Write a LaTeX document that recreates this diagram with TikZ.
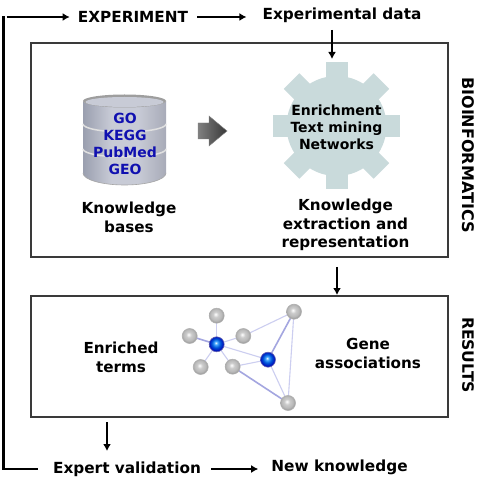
\documentclass[tikz,border=0pt]{standalone}
\usepackage{fontspec}
\setmainfont{DejaVu Sans}
\usetikzlibrary{arrows.meta,calc}
\definecolor{silverA}{HTML}{6F7484}
\definecolor{silverB}{HTML}{9297A8}
\definecolor{silverC}{HTML}{C8CBD6}
\definecolor{silverD}{HTML}{A8ABB8}
\definecolor{silverE}{HTML}{7C7F8C}
\pgfdeclarehorizontalshading{silver}{100bp}{
  color(0bp)=(silverA); color(22bp)=(silverB); color(42bp)=(silverC);
  color(58bp)=(silverC); color(75bp)=(silverD); color(92bp)=(silverE); color(100bp)=(silverA)}
\pgfdeclareradialshading{grayball}{\pgfpoint{-4bp}{5bp}}{
  color(0bp)=(white); color(9bp)=(black!20); color(20bp)=(black!28); color(28bp)=(black!45); color(50bp)=(black!45)}
\pgfdeclareradialshading{blueball}{\pgfpoint{-3bp}{5bp}}{
  color(0bp)=(white); color(5bp)=(blue!45!cyan!70!white); color(14bp)=(blue!60!cyan!85!black); color(26bp)=(blue!70!black); color(50bp)=(blue!70!black)}
\definecolor{gearfill}{HTML}{C9DADB}
\definecolor{dbblue}{HTML}{1010B0}
\definecolor{boxline}{HTML}{3A3A3A}
\definecolor{linkblue}{HTML}{CCCEF0}
\definecolor{linkdark}{HTML}{A4A6E0}
\tikzset{
  x=1pt,y=-1pt,
  panel/.style={draw=boxline,line width=1.2pt,fill=white},
  flow/.style={line width=2.1pt,black,-{Latex[length=7pt,width=8pt]}},
  loopline/.style={line width=2.5pt,black},
  caption/.style={font=\fontsize{15.2}{18.7}\selectfont\bfseries,align=center,inner sep=0pt,text=black},
  headline/.style={font=\fontsize{15.3}{19}\selectfont\bfseries,inner sep=0pt,text=black},
  side/.style={font=\fontsize{16}{18}\selectfont\bfseries,inner sep=0pt,rotate=-90,text=black},
  dbtext/.style={font=\fontsize{14}{17}\selectfont\bfseries,inner sep=0pt,text=dbblue},
  geartext/.style={font=\fontsize{14}{17}\selectfont\bfseries,align=center,inner sep=0pt,text=black},
  graynode/.style={circle,minimum size=15pt,inner sep=0pt,draw=black!30,line width=0.6pt,shading=grayball},
  bluenode/.style={circle,minimum size=15pt,inner sep=0pt,draw=blue!50!black!60,line width=0.6pt,shading=blueball},
  weak/.style={draw=linkblue,line width=1.1pt},
  strong/.style={draw=linkdark,line width=1.6pt},
}
\begin{document}
\begin{tikzpicture}
\useasboundingbox (0,0) rectangle (487,478);

% panels
\draw[panel] (31,43) rectangle (448,257);
\draw[panel] (31,296) rectangle (448,417);

% top and bottom rows
\node[headline] (experiment) at (133,17) {EXPERIMENT};
\node[headline] (data) at (342,15.5) {Experimental data};
\node[headline] (validation) at (127,469) {Expert validation};
\node[headline] (newknow) at (339.5,467.5) {New knowledge};

% knowledge base cylinder
\shade[shading=silver]
  (83,101) -- (83,173) arc[start angle=180,end angle=0,x radius=41.5,y radius=12]
  -- (166,101) arc[start angle=0,end angle=180,x radius=41.5,y radius=6] -- cycle;
\draw[white!88!black,line width=1.5pt] (83,124) arc[start angle=180,end angle=0,x radius=41.5,y radius=8];
\draw[white!88!black,line width=1.5pt] (83,149) arc[start angle=180,end angle=0,x radius=41.5,y radius=8];
\draw[black!35,line width=0.6pt] (83,173) arc[start angle=180,end angle=0,x radius=41.5,y radius=12];
\fill[black!38] (124.5,101) ellipse[x radius=41.5,y radius=6.5];
\fill[silverC] (124.5,102) ellipse[x radius=39,y radius=5];
\node[dbtext] (go) at (125,118) {GO};
\node[dbtext] (kegg) at (125,135) {KEGG};
\node[dbtext] (pubmed) at (125,152) {PubMed};
\node[dbtext] (geo) at (125,169) {GEO};

% block arrow between cylinder and gear
\shade[left color=black!50,right color=black!78,draw=black!50,line width=0.4pt]
  (198,123) -- (209,123) -- (209,116) -- (227,131) -- (209,146) -- (209,139) -- (198,139) -- cycle;

% gear
\begin{scope}[shift={(336.5,126)}]
  \fill[gearfill] (0,0) circle[radius=50];
  \foreach \a in {0,45,...,135}{
    \fill[gearfill,rotate=\a] (-63.5,-11) rectangle (63.5,11);
  }
\end{scope}
\node[geartext] (gear) at (336.5,127.5) {Enrichment\\Text mining\\Networks};

% captions
\node[caption] (bases) at (129,217.5) {Knowledge\\bases};
\node[caption] (extraction) at (345.5,225) {Knowledge\\extraction and\\representation};
\node[caption] (terms) at (121,357.5) {Enriched\\terms};
\node[caption] (assoc) at (368,353.5) {Gene\\associations};
\node[side] (bio) at (468.5,155) {BIOINFORMATICS};
\node[side,font=\fontsize{15.6}{18}\selectfont\bfseries] (res) at (468,355) {RESULTS};

% network
\coordinate (hubA) at (216.7,344.3);
\coordinate (hubB) at (268,359.7);
\coordinate (g1) at (216.7,315.7);
\coordinate (g2) at (189.7,336);
\coordinate (g3) at (243.3,336);
\coordinate (g4) at (200.7,367);
\coordinate (g5) at (232.7,366.7);
\coordinate (g6) at (294,311.7);
\coordinate (g7) at (288,403);
\draw[weak] (hubA) -- (g1);
\draw[strong] (hubA) -- (g2);
\draw[weak] (hubA) -- (g3);
\draw[weak] (hubA) -- (g4);
\draw[weak] (hubA) -- (g5);
\draw[weak] (hubA) -- (hubB);
\draw[weak] (hubB) -- (g5);
\draw[strong] (hubB) -- (g6);
\draw[weak] (hubB) -- (g7);
\draw[weak] (g3) -- (g6);
\draw[weak] (g6) -- (g7);
\draw[strong] (g5) -- (g7);
\node[bluenode] at (hubA) {};
\node[bluenode] at (hubB) {};
\foreach \n in {g1,g2,g3,g4,g5,g6,g7}{\node[graynode] at (\n) {};}

% flow connectors
\coordinate (loopcorner) at (3.5,17);
\coordinate (loopfoot) at (3.5,469);
\draw[flow,shorten <=3pt] (loopcorner) -- ([xshift=-8pt]experiment.west |- loopcorner);
\draw[loopline,line cap=rect] (loopcorner) -- (loopfoot) -- ([xshift=-16pt]validation.west |- loopfoot);
\draw[flow,shorten <=9pt,shorten >=16pt] (experiment.east) -- (experiment.east -| data.west);
\draw[flow,shorten <=10pt,shorten >=13pt] (validation.east) -- (validation.east -| newknow.west);
\coordinate (topin) at (332,30);
\coordinate (topout) at (332,59);
\draw[flow] (topin) -- (topout);
\coordinate (midin) at (337,267);
\coordinate (midout) at (337,295);
\draw[flow] (midin) -- (midout);
\coordinate (lowin) at (107,422);
\coordinate (lowout) at (107,451);
\draw[flow] (lowin) -- (lowout);
\end{tikzpicture}
\end{document}
